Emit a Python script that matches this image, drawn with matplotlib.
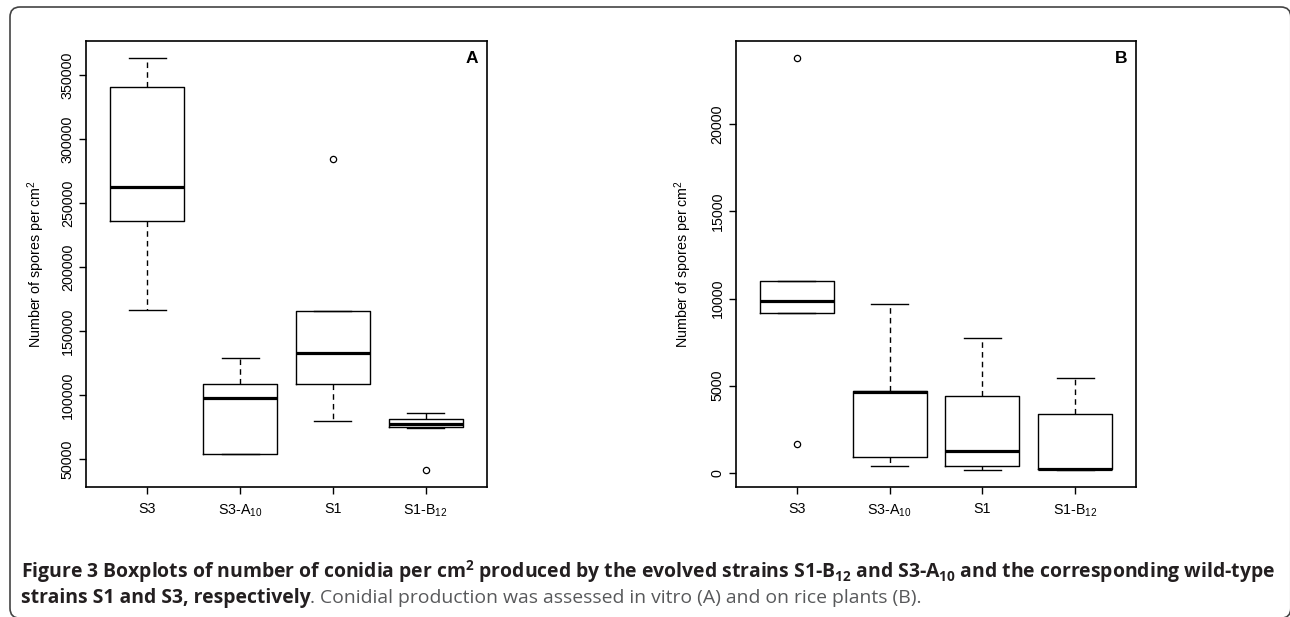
import matplotlib
matplotlib.use('Agg')
import matplotlib.pyplot as plt
from matplotlib.patches import FancyBboxPatch

plt.rcParams['font.family'] = ['Liberation Sans', 'DejaVu Sans']
plt.rcParams['mathtext.default'] = 'regular'

# strains on the x axis
strains = ['S3', 'S3-A$_{10}$', 'S1', 'S1-B$_{12}$']

# panel A: in vitro (spores per cm2)
a_q1 = [235900, 53900, 109100, 75000]
a_med = [262500, 97900, 133400, 77600]
a_q3 = [340600, 109100, 165900, 81800]
a_lo = [166700, 53900, 79700, 74500]
a_hi = [363800, 128900, 165900, 85900]
a_out = [[], [], [284400], [41400]]
a_ticks = [50000, 100000, 150000, 200000, 250000, 300000, 350000]

# panel B: on rice plants
b_q1 = [9140, 880, 400, 190]
b_med = [9850, 4630, 1230, 230]
b_q3 = [11010, 4700, 4400, 3390]
b_lo = [9140, 400, 130, 130]
b_hi = [11010, 9690, 7735, 5420]
b_out = [[1640, 23830], [], [], []]
b_ticks = [0, 5000, 10000, 15000, 20000]


def make_stats(q1, med, q3, lo, hi, out):
    stats = []
    for i in range(len(strains)):
        stats.append(dict(q1=q1[i], med=med[i], q3=q3[i], whislo=lo[i],
                          whishi=hi[i], fliers=out[i], label=strains[i]))
    return stats


def draw_panel(ax, stats, ticks, letter, label_x):
    ax.bxp(stats, positions=[1, 2, 3, 4], widths=0.8, capwidths=0.4,
           boxprops=dict(color='black', linewidth=1.0),
           medianprops=dict(color='black', linewidth=2.3, solid_capstyle='butt'),
           whiskerprops=dict(color='black', linewidth=1.0, linestyle=(0, (4, 3))),
           capprops=dict(color='black', linewidth=1.0),
           flierprops=dict(marker='o', markersize=4.5, markerfacecolor='none',
                           markeredgecolor='black', markeredgewidth=0.9))
    # R style range: data range plus 4% each side
    vals = [s['whislo'] for s in stats] + [s['whishi'] for s in stats]
    for s in stats:
        vals += list(s['fliers'])
    lo, hi = min(vals), max(vals)
    pad = 0.04 * (hi - lo)
    ax.set_ylim(lo - pad, hi + pad)
    ax.set_xlim(0.34, 4.66)
    ax.set_yticks(ticks)
    ax.set_yticklabels([str(t) for t in ticks], rotation=90, va='center')
    ax.tick_params(axis='both', direction='out', length=5, width=1.0,
                   labelsize=10.3, color='black')
    ax.tick_params(axis='y', pad=3)
    ax.tick_params(axis='x', pad=6)
    for sp in ax.spines.values():
        sp.set_linewidth(1.2)
    ax.set_ylabel('Number of spores per cm$^{2}$', fontsize=10.3)
    ax.yaxis.set_label_coords(label_x, 0.5)
    ax.text(0.962, 0.96, letter, transform=ax.transAxes, ha='center', va='center',
            fontsize=12.5, fontweight='bold',
            family=['Liberation Sans Narrow', 'Liberation Sans'])


fig = plt.figure(figsize=(12.9, 6.17), dpi=100)
W, H = 1290, 617

axA = fig.add_axes([86 / W, 1 - 487 / H, 401 / W, 446 / H])
axB = fig.add_axes([735.7 / W, 1 - 487 / H, 400.6 / W, 446 / H])

draw_panel(axA, make_stats(a_q1, a_med, a_q3, a_lo, a_hi, a_out), a_ticks, 'A', -0.097)
draw_panel(axB, make_stats(b_q1, b_med, b_q3, b_lo, b_hi, b_out), b_ticks, 'B', -0.104)

# rounded outer frame, right and bottom edges sit at the picture's edge
frame = FancyBboxPatch((0.10, -0.012), 12.808, 6.112,
                       boxstyle='round,pad=0,rounding_size=0.1',
                       transform=fig.dpi_scale_trans, facecolor='none',
                       edgecolor='#444444', linewidth=1.2)
fig.add_artist(frame)

# caption
cap_font = ['Open Sans', 'DejaVu Sans']
dark = '#231f20'
grey = '#58595b'
line1 = ('Figure 3 Boxplots of number of conidia per cm$^{2}$ produced by the evolved '
         'strains S1-B$_{12}$ and S3-A$_{10}$ and the corresponding wild-type')
line2_bold = 'strains S1 and S3, respectively'
line2_rest = '. Conidial production was assessed in vitro (A) and on rice plants (B).'

x0 = 20.7 / W
fs = 12.0
renderer = fig.canvas.get_renderer()
t1 = fig.text(x0, 1 - 572 / H, line1, family=cap_font, fontweight='bold',
              fontsize=fs, color=dark, va='center', ha='left')
w1 = t1.get_window_extent(renderer=renderer).width
fs = fs * (1252 / w1)
t1.set_fontsize(fs)

t2 = fig.text(x0, 1 - 598 / H, line2_bold, family=cap_font, fontweight='bold',
              fontsize=fs, color=dark, va='center', ha='left')
bb = t2.get_window_extent(renderer=renderer)
fig.text(bb.x1 / W, 1 - 598 / H, line2_rest, family=cap_font, fontweight='normal',
         fontsize=fs, color=grey, va='center', ha='left')

fig.savefig('out.png', dpi=100)
